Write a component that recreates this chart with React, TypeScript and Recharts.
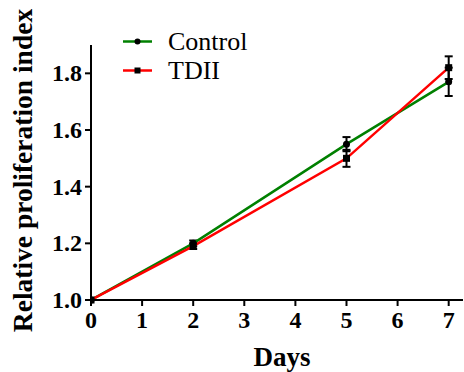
import React from 'react';
import { LineChart, Line, XAxis, YAxis, ErrorBar } from 'recharts';

const days = [0, 2, 5, 7];
const control = [1.0, 1.2, 1.55, 1.77];
const controlErr = [0, 0.01, 0.025, 0.05];
const tdii = [1.0, 1.19, 1.5, 1.82];
const tdiiErr = [0, 0.01, 0.03, 0.04];
const xTicks = [0, 1, 2, 3, 4, 5, 6, 7];
const yTicks = [1.0, 1.2, 1.4, 1.6, 1.8];
const seriesNames = ['Control', 'TDII'];

const data = days.map((d, i) => ({
  day: d,
  control: control[i],
  controlErr: controlErr[i],
  tdii: tdii[i],
  tdiiErr: tdiiErr[i],
}));

const FONT = "'Liberation Serif', 'Times New Roman', serif";
const GREEN = '#008000';
const RED = '#ff0000';

const CircleDot = (props: any) => {
  const { cx, cy } = props;
  if (cx == null || cy == null) return null;
  return <circle cx={cx} cy={cy} r={3.5} fill="#000" />;
};
const SquareDot = (props: any) => {
  const { cx, cy } = props;
  if (cx == null || cy == null) return null;
  return <rect x={cx - 3.5} y={cy - 3.5} width={7} height={7} fill="#000" />;
};

const XTick = (props: any) => {
  const { x, y, payload } = props;
  return (
    <text x={x} y={y + 20} textAnchor="middle" style={{ fontFamily: FONT, fontWeight: 'bold', fontSize: 24 }} fill="#000">
      {String(payload.value)}
    </text>
  );
};
const YTick = (props: any) => {
  const { x, y, payload } = props;
  return (
    <text x={x - 1} y={y + 8} textAnchor="end" style={{ fontFamily: FONT, fontWeight: 'bold', fontSize: 24 }} fill="#000">
      {Number(payload.value).toFixed(1)}
    </text>
  );
};

const YLabel = (props: any) => {
  const vb = props.viewBox || {};
  const cy = vb.y + vb.height / 2 - 2;
  return (
    <text
      x={32}
      y={cy}
      transform={`rotate(-90, 32, ${cy})`}
      textAnchor="middle"
      style={{ fontFamily: FONT, fontWeight: 'bold', fontSize: 27.5 }}
      fill="#000"
    >
      Relative proliferation index
    </text>
  );
};

const XLabel = (props: any) => {
  const vb = props.viewBox || {};
  const cx = vb.x + vb.width / 2 + 5;
  return (
    <text x={cx} y={366} textAnchor="middle" style={{ fontFamily: FONT, fontWeight: 'bold', fontSize: 27 }} fill="#000">
      Days
    </text>
  );
};

export default function App() {
  return (
    <div style={{ position: 'absolute', left: 0, top: 0, width: 464, height: 372, background: '#fff' }}>
      <LineChart width={464} height={372} data={data} margin={{ top: 45, right: 1, left: 0, bottom: 40 }}>
        <XAxis
          dataKey="day"
          type="number"
          domain={[0, 7.28]}
          ticks={xTicks}
          allowDataOverflow
          height={32}
          tickSize={6}
          axisLine={{ stroke: '#000', strokeWidth: 2 }}
          tickLine={{ stroke: '#000', strokeWidth: 2 }}
          tick={<XTick />}
          label={<XLabel />}
        />
        <YAxis
          type="number"
          domain={[1.0, 1.9]}
          ticks={yTicks}
          width={91}
          tickSize={6}
          axisLine={{ stroke: '#000', strokeWidth: 2 }}
          tickLine={{ stroke: '#000', strokeWidth: 2 }}
          tick={<YTick />}
          label={<YLabel />}
        />
        <Line
          name="Control"
          dataKey="control"
          stroke={GREEN}
          strokeWidth={2.5}
          dot={<CircleDot />}
          isAnimationActive={false}
        >
          <ErrorBar dataKey="controlErr" direction="y" width={4} stroke="#000" strokeWidth={2} />
        </Line>
        <Line
          name="TDII"
          dataKey="tdii"
          stroke={RED}
          strokeWidth={2.5}
          dot={<SquareDot />}
          isAnimationActive={false}
        >
          <ErrorBar dataKey="tdiiErr" direction="y" width={4} stroke="#000" strokeWidth={2} />
        </Line>
      </LineChart>
      <div
        style={{
          position: 'absolute',
          left: 123,
          top: 27,
          fontFamily: FONT,
          fontSize: 26,
          color: '#000',
          lineHeight: '29px',
        }}
      >
        {seriesNames.map((n, i) => (
          <div key={n} style={{ display: 'flex', alignItems: 'center', height: 29 }}>
            <svg width={45} height={29} style={{ display: 'block' }}>
              <line x1={0} x2={29} y1={14.5} y2={14.5} stroke={i === 0 ? GREEN : RED} strokeWidth={2.5} />
              {i === 0 ? (
                <circle cx={14.5} cy={14.5} r={3} fill="#000" />
              ) : (
                <rect x={11.5} y={11.5} width={6} height={6} fill="#000" />
              )}
            </svg>
            <span>{n}</span>
          </div>
        ))}
      </div>
    </div>
  );
}
